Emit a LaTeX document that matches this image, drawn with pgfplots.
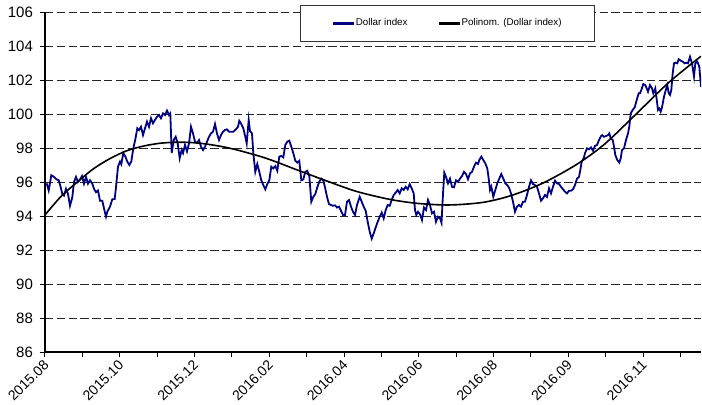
\documentclass[border=0pt]{standalone}
\usepackage{fontspec}
\setmainfont{Liberation Sans}
\usepackage{pgfplots}
\pgfplotsset{compat=1.18}

\definecolor{dollarblue}{RGB}{0,0,128}

\begin{document}
\begin{tikzpicture}
\useasboundingbox (-22.5pt,-26pt) rectangle (328.5pt,176pt);
\begin{axis}[
  at={(0pt,0pt)}, anchor=south west,
  scale only axis, width=328pt, height=170pt,
  xmin=0, xmax=656, ymin=86, ymax=106,
  ytick={86,88,...,106},
  xtick={0,74.75,...,640},
  minor xtick={37.375,112.125,...,650},
  xticklabels={2015.08,2015.10,2015.12,2016.02,2016.04,2016.06,2016.08,2016.09,2016.11},
  axis lines*=left, axis line style={-, line width=0.6pt},
  tick align=outside, major tick length=2.5pt, minor tick length=2.5pt,
  tick style={black, line width=0.5pt},
  ymajorgrids,
  major grid style={black!85, line width=0.5pt, dash pattern=on 4.2pt off 1.7pt},
  y tick label style={font=\fontsize{7.5}{8}\selectfont},
  x tick label style={font=\fontsize{7}{8}\selectfont, xshift=1.5pt, yshift=-2pt,
    rotate=45, anchor=east, inner sep=1pt},
  /pgf/number format/assume math mode=true,
  legend columns=2,
  legend style={at={(0.613,0.966)}, anchor=center, draw=black!80, fill=white,
    font=\fontsize{4.9}{5.5}\selectfont, inner xsep=16pt, inner ysep=6pt,
    nodes={inner xsep=0.2pt, inner ysep=0.6pt},
    /tikz/every even column/.append style={column sep=15pt}},
]
% Dollar index (horizontal position along the trading-day axis, value)
\addplot[dollarblue, line width=0.9pt,
  legend image code/.code={\draw[draw=dollarblue, line width=1.1pt] (0pt,0pt) -- (10.5pt,0pt);}]
coordinates {
(1.7,95.92) (3.7,95.5) (6.3,96.4) (9,96.3) (11.7,96.15) (13.7,96.1) (15.7,95.7) (17.3,95.3)
(19,95.2) (21,95.6) (23,95.3) (25,94.6) (27.3,95.1) (29,96.0) (31,96.3) (33,96.0)
(35,96.15) (37,96.35) (39,95.9) (41,96.3) (43,95.9) (45,96.1) (47.3,95.9) (49,95.6)
(51,95.4) (53,95.5) (55,94.9) (57.3,94.9) (59,94.45) (61,93.96) (62.3,94.25) (65,94.55)
(67.3,94.98) (69.7,95.0) (71,95.7) (73,96.9) (75,97.2) (76.3,97.05) (78.3,97.7) (80.3,97.5)
(82.3,97.2) (84.3,97.0) (86.3,97.2) (88.3,97.98) (90.3,98.5) (92.3,99.16) (94,99.05)
(96,99.25) (98,98.76) (100,99.16) (102,99.55) (104,99.25) (106,99.75) (108,99.45) (110,99.65)
(112,99.84) (114,99.94) (116,99.75) (118,100.04) (120,99.94) (122,100.2) (124,99.94) (125.3,100.04)
(126.7,97.7) (128.7,98.47) (130.7,98.66) (132.7,98.27) (134.7,97.4) (136.7,97.88) (138,97.7) (140,98.18)
(142,97.8) (144,98.27) (146,99.25) (148,98.86) (150,98.37) (152,98.3) (154,98.47) (156,98.08)
(158,97.88) (160,98.08) (162,98.37) (164,98.66) (166,98.86) (168,98.96) (170,99.41) (172,98.86)
(174,98.47) (176,98.76) (178,98.96) (180,99.06) (182,99.1) (184,98.96)
(188.3,98.96) (191,99.1) (193,99.25) (194.3,99.6) (196.3,99.41) (198.3,99.16) (200.3,98.66) (201.7,98.27)
(203.7,99.65) (205,99.0) (207,98.86) (208.3,97.7) (210.3,96.6) (212.3,97.06) (214.3,96.6) (216.3,96.1)
(218.3,95.82) (220.3,95.57) (222.3,95.88) (224.3,96.1) (226.3,96.9) (228.3,96.8) (230.3,96.94) (232.3,96.66)
(234.3,97.49) (236.3,97.53) (238.3,97.45) (240.3,98.18) (242.3,98.37) (244.3,98.43) (246.3,98.08) (248.3,97.7)
(250.3,97.25) (252.3,97.14) (254.3,97.25) (256.3,96.1) (258.3,96.15) (260.3,96.6) (262.3,96.66) (264.3,96.35)
(266.3,94.84) (268.3,95.13) (270.3,95.29) (272.3,95.69) (274.3,96.02) (276.3,96.2) (278.3,96.1)
(280,95.69) (282,95.13) (284,94.7) (286,94.65) (288,94.6) (290,94.63) (292,94.5) (294,94.55)
(296,94.31) (298,94.06) (300,94.06) (302,94.84) (304,94.94) (306,94.55) (308,94.25) (310,94.06)
(312,94.65) (314.7,95.13) (316.7,94.84) (318.7,94.55) (320.7,94.31) (322.7,93.66) (324.7,93.08) (326.7,92.67)
(328.7,92.98) (330.7,93.33) (332.7,93.66) (334.7,93.96) (336.7,94.2) (338.7,93.86) (340.7,94.35) (342.7,94.65)
(344.7,94.6) (346.7,94.94) (348.7,95.24) (350.7,95.37) (352.7,95.53) (354.7,95.33) (356.7,95.63) (358.7,95.53)
(360.7,95.72) (362.7,95.57) (364.7,95.88) (366.7,95.63) (368.7,95.33) (370,94.35) (371.3,94.06)
(373,94.25) (375,94.1) (377,93.76) (379,94.5) (381,94.35) (383,94.94) (385,94.65) (387,94.16)
(389,94.25) (391,93.66) (393,93.96) (395,93.86) (396.5,93.6) (398,95.3) (399.3,96.55) (401,96.3)
(403,95.92) (405,96.2) (407,95.72) (409,95.69) (411,96.1) (413,96.0) (415,96.2) (417,96.35)
(419,96.6) (421,96.47) (423,96.16) (425,96.51) (427,96.6) (429,96.9) (431,97.14) (433,97.06)
(434.3,97.29) (436.3,97.49) (438.3,97.29) (440.3,97.1) (442.3,96.8) (443.7,96.2) (445,95.53) (446.3,95.72)
(448.3,95.13) (450.3,95.53) (452.3,95.92) (454.3,96.2) (456.3,96.47) (458.3,96.2) (460.3,95.92) (462.3,95.82)
(464.3,95.63) (466,95.33) (468,94.84) (470,94.25) (472,94.55) (474,94.65) (476,94.55) (478,94.84)
(480,94.84) (482,95.24) (484,95.72) (486,96.1) (488,95.88) (490,95.82) (492,95.72) (494,95.33)
(496,94.9) (498,95.04) (500,95.24) (502,95.13) (504,95.63) (506,95.33) (508,95.72) (510,96.08)
(512,95.92) (514,95.88) (516,95.72) (518,95.57) (520,95.43) (522,95.33) (524,95.49) (526,95.49)
(528,95.57) (530,95.82) (532,96.2) (534,96.3) (535.3,96.7) (536.7,97.2) (538.7,97.4) (540,97.69)
(542,97.98) (544,97.92) (546,98.04) (548,97.84) (550,98.12) (552,98.18) (554,98.47) (556,98.7)
(557.3,98.76) (559,98.66) (561,98.7) (563,98.76) (564.3,98.86) (565.7,98.57) (567.7,98.47) (569,98.08)
(570.3,97.59) (572.3,97.29) (574.3,97.14) (575.7,97.39) (577,97.88) (579,97.98) (581,98.47) (583,98.86)
(584.3,99.25) (585.7,100.04) (587.7,100.24) (589.7,100.39) (591.7,100.82) (593.7,101.22) (595,101.22) (596.3,101.41)
(598.3,101.76) (600.3,101.7) (601.7,101.51) (603,101.31) (605,101.7) (607,101.51) (608.3,101.22) (610.3,101.51)
(611.7,100.86) (613,100.24) (614.3,100.33) (615.7,100.14) (617,100.39) (619,101.02) (620.3,101.31) (622.3,101.7)
(623.7,101.22) (625,101.12) (626.3,101.41) (627.7,102.39) (629,102.98) (630.3,103.02) (632.3,102.98) (633.7,103.22)
(635.7,103.14) (637.7,103.08) (639.7,102.98) (641.7,103.02) (643,102.98) (645,103.37) (647,102.98) (649,102.2)
(650.3,102.98) (652.3,103.08) (654.3,102.78) (656,101.6)
};
% polynomial trend
\addplot[black, line width=0.8pt, smooth,
  legend image code/.code={\draw[draw=black, line width=1.1pt] (0pt,0pt) -- (10.5pt,0pt);}]
coordinates {
(0,94.06) (15.7,95.13) (32.3,96.0) (49,96.8) (65.7,97.4) (82.3,97.85) (99,98.12)
(115,98.28) (131,98.34) (147,98.32) (163,98.22) (179,98.06) (195,97.84)
(218.3,97.45) (235,97.1) (251.7,96.72) (280,96.1) (311.3,95.45) (344.7,94.98)
(373,94.74) (404.3,94.65) (437.7,94.8) (466,95.2) (497.3,95.92) (530.7,97.0)
(559,98.2) (590.3,99.95) (623.7,101.85) (656,103.4)
};
\legend{Dollar index, Polinom. (Dollar index)}
\end{axis}
\end{tikzpicture}
\end{document}
